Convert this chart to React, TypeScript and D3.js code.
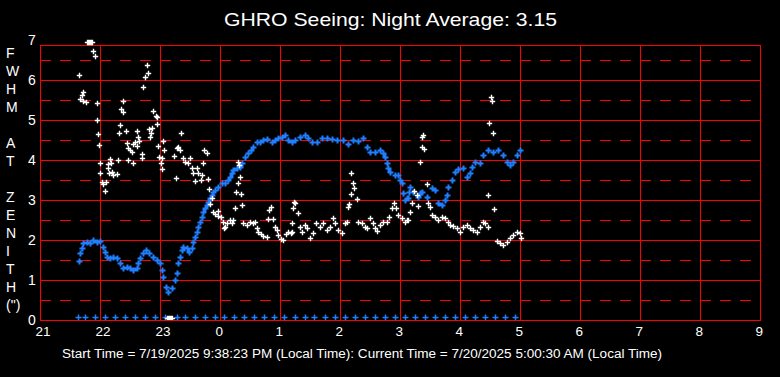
import React from "react";
import * as d3 from "d3";

const W = 780;
const H = 377;

const titleText = "GHRO Seeing: Night Average: 3.15";
const footerText =
  "Start Time = 7/19/2025 9:38:23 PM (Local Time): Current Time = 7/20/2025 5:00:30 AM (Local Time)";
const xTickLabels = ["21", "22", "23", "0", "1", "2", "3", "4", "5", "6", "7", "8", "9"];
const yTickLabels = ["0", "1", "2", "3", "4", "5", "6", "7"];
const yAxisLetters = ["F", "W", "H", "M", "", "A", "T", "", "Z", "E", "N", "I", "T", "H", "(\")"];

// minutes after 21:00
const blueMinutes = [
  39, 40, 41.7, 43.3, 46.7, 50, 53.3, 56.7, 60, 62.7, 65, 66.7, 70, 73.3, 76.7, 80, 83.3, 86.7, 90, 93.3,
  96.7, 98.3, 100, 102.7, 106, 109.3, 112.7, 116.7, 120, 121.7, 123.3, 126, 128.3, 131.7, 135, 136.7, 138.3,
  140, 141.7, 143.3, 146.7, 149.3, 151.7, 153.3, 155, 156.7, 158.3, 160, 161.7, 163.3, 165, 166.7, 168.3,
  170, 171.7, 173.3, 175, 178.3, 181.7, 185, 188.3, 190, 191.7, 193.3, 196.7, 200, 201.7, 205, 208.3, 211,
  213.3, 216.7, 220, 223.3, 226.7, 231.7, 235, 238.3, 241.7, 245, 248.3, 251.7, 255, 260, 265, 268.3, 271.7,
  276.7, 281.7, 286.7, 291.7, 296.7, 303.3, 308.3, 313.3, 318.3, 323.3, 326.7, 330, 335, 340, 343.3, 345,
  346.7, 348.3, 350, 355, 358.3, 360, 361.7, 363.3, 365, 366.7, 368.3, 369.3, 370, 373.3, 378.3, 380, 381.7,
  386.7, 391.7, 395, 398.3, 401.7, 405, 406.7, 408.3, 411.7, 415, 418.3, 423.3, 426.7, 430, 431.7, 435, 440,
  443.3, 448.3, 453.3, 458.3, 463.3, 466.7, 470, 473.3, 476.7, 480,
];
const blueValues = [
  1.48, 1.67, 1.79, 1.92, 1.96, 1.92, 2.0, 1.96, 1.98, 1.83, 1.71, 1.58, 1.54, 1.58, 1.54, 1.42, 1.31, 1.33,
  1.29, 1.25, 1.29, 1.42, 1.54, 1.68, 1.75, 1.67, 1.58, 1.5, 1.42, 1.25, 1.08, 0.83, 0.71, 0.79, 1.0, 1.17,
  1.42, 1.58, 1.75, 1.83, 1.79, 1.71, 1.79, 1.96, 2.08, 2.21, 2.33, 2.46, 2.58, 2.71, 2.79, 2.875, 2.96,
  3.04, 3.125, 3.21, 3.25, 3.33, 3.42, 3.43, 3.5, 3.58, 3.67, 3.75, 3.81, 3.83, 3.92, 4.08, 4.17, 4.25,
  4.33, 4.46, 4.46, 4.5, 4.52, 4.46, 4.5, 4.54, 4.58, 4.625, 4.5, 4.46, 4.5, 4.57, 4.625, 4.54, 4.46,
  4.46, 4.56, 4.54, 4.52, 4.5, 4.5, 4.4, 4.5, 4.48, 4.54, 4.33, 4.21, 4.21, 4.25, 4.17, 4.08,
  3.92, 3.79, 3.71, 3.625, 3.625, 3.5, 3.42, 3.17, 3.0, 3.04, 3.04, 3.21, 3.33, 3.21, 3.08, 3.17, 3.21,
  3.08, 3.29, 3.25, 2.92, 2.875, 3.0, 3.125, 3.33, 3.5, 3.71, 3.77, 3.79, 3.58, 3.67, 3.83, 3.96, 3.92,
  4.125, 4.25, 4.21, 4.25, 4.125, 3.96, 3.875, 3.96, 4.125, 4.25,
];

const whiteMinutes = [
  47, 48, 49, 50, 51, 52, 53.3, 55.3, 39.3, 107.3, 108.3, 105, 103.3, 43.3, 41.7, 40, 42.7, 45.7, 56.7, 82.7,
  81, 83.3, 113.3, 115.7, 117.3, 57.3, 80.3, 85.7, 79.3, 97.3, 109.3, 112.3, 117.3, 111, 110, 98.3, 99.3, 95,
  86.7, 88.3, 90, 91.7, 92.7, 96.7, 58.3, 59.3, 118.3, 123.3, 124.3, 119.3, 122, 120.7, 121.7, 134.3, 136,
  138.3, 101.7, 101.7, 93.3, 78.3, 87.7, 70, 70.7, 68.3, 60, 67.7, 69.3, 71.7, 73.3, 76.7, 60, 61.7, 63.3,
  66, 65.3,
  141, 140, 136.7, 143.3, 145, 148.3, 150, 164.3, 166.7, 163.3, 151.7, 156.7, 153.3, 158.3, 161.7, 155, 161,
  168.3, 169.3, 171.7, 170, 198.3, 199.3, 200, 197.7, 196, 201, 195, 202.3, 173.3, 175, 178.3, 177.7, 181,
  183.3, 185, 184.3, 186.7, 190, 191.7, 193.3, 203.3, 206.7, 210, 213.3, 215, 216.7, 218.3, 221, 223.3,
  226.7, 231, 229.3, 227.7, 232.7, 235, 236.7, 238.3, 241, 243.3, 246, 248.3, 251, 252.3, 253.3, 254.3,
  255, 258.3, 251.7, 260, 261.7, 265, 266.7, 270, 272.7, 276, 280, 283.3, 286.7, 290, 292.7, 295, 298.3,
  301.7, 305, 306.7, 308.3, 309.3, 311, 312.7, 314, 310.7, 316.7, 318.3, 321.7, 325, 327.3, 330, 332.7, 335,
  337.3, 340, 343.3, 346.7, 349.3, 351.7, 354, 356, 358.3, 361.7, 365, 368.3,
  366.7, 381.7, 383.3, 381.7, 384.3, 380, 386.7, 374.3, 376.7, 372.3, 370, 378.3, 388.3, 390, 391.7, 395,
  398.3, 401.7, 405, 407.7, 410, 413.3, 416.7, 420, 423.3, 426.7, 430, 433.3, 436.7, 440, 442.7, 445, 447.7,
  450.7, 452.3, 449.3, 453.3, 448.3, 454.3, 456.7, 460, 463.3, 466.7, 470, 473.3, 476.7, 480, 480.7,
  127, 128, 129, 130, 131, 132,
];
const whiteValues = [
  6.94, 6.94, 6.94, 6.94, 6.94, 6.94, 6.72, 6.6, 6.12, 6.37, 6.17, 6.08, 5.82, 5.69, 5.625, 5.52, 5.475, 5.44,
  5.42, 5.475, 5.27, 5.21, 5.225, 5.1, 5.08, 4.99, 4.87, 4.725, 4.67, 4.725, 4.77, 4.79, 4.89, 4.67, 4.57,
  4.57, 4.48, 4.46, 4.42, 4.29, 4.25, 4.19, 4.4, 4.35, 4.64, 4.37, 4.35, 4.475, 4.25, 4.07, 4.04, 3.92, 3.77,
  4.1, 3.54, 4.32, 4.15, 4.04, 3.92, 4.0, 3.99, 4.02, 3.92, 3.9, 3.92, 3.79, 3.68, 3.71, 3.625, 3.65, 3.67,
  3.46, 3.4, 3.44, 3.225,
  4.67, 4.25, 4.29, 4.04, 3.96, 3.92, 4.04, 4.25, 4.18, 3.93, 3.81, 3.81, 3.67, 3.68, 3.625, 3.475, 3.5,
  3.52, 3.275, 3.04, 2.89, 3.96, 3.875, 3.58, 3.42, 3.19, 3.14, 2.79, 2.875, 2.71, 2.65, 2.73, 2.6, 2.58,
  2.46, 2.33, 2.29, 2.42, 2.5, 2.43, 2.5, 2.42, 2.375, 2.46, 2.42, 2.46, 2.29, 2.21, 2.14, 2.1,
  2.08, 2.83, 2.75, 2.52, 2.52, 2.33, 2.25, 2.125, 2.025, 2.0, 2.14, 2.21, 2.18, 2.42, 2.79, 2.96,
  2.92, 2.67, 2.21, 2.33, 2.21, 2.375, 2.29, 2.04, 2.18, 2.42, 2.33, 2.42, 2.25, 2.33, 2.54, 2.42, 2.25,
  2.17, 2.42, 2.46, 2.83, 2.89, 3.67, 3.42, 3.29, 3.14, 3.02, 2.46, 2.42, 2.33, 2.31, 2.54, 2.43, 2.29,
  2.23, 2.375, 2.46, 2.46, 2.58, 2.79, 2.92, 2.79, 2.625, 2.54, 2.46, 2.5,
  2.5, 4.58, 4.625, 4.33, 4.27, 3.94, 3.39, 3.23, 3.125, 2.92, 2.71, 2.86, 2.92, 2.83, 2.625, 2.58,
  2.5, 2.58, 2.54, 2.46, 2.375, 2.35, 2.29, 2.21, 2.33, 2.375, 2.29, 2.25, 2.21, 2.33, 2.46, 2.42, 2.32,
  5.57, 5.475, 4.92, 4.67, 3.125, 2.77, 1.98, 1.93, 1.875, 1.96, 2.04, 2.125, 2.21, 2.18, 2.04,
  0.05, 0.05, 0.05, 0.05, 0.05, 0.05,
];

// markers drawn just above the zero line
const zeroMarkMinutes = [
  38, 45, 55, 65, 75, 85, 95, 105, 115, 125, 137, 145, 155, 165, 175, 184, 194, 204, 214, 224, 234, 244, 255,
  265, 274, 285, 295, 305, 315, 325, 335, 345, 355, 365, 375, 385, 395, 405, 415, 425, 435, 445, 455, 465, 475,
];
const zeroMarkValue = 0.075;

const FONT = "'Liberation Sans', Arial, sans-serif";
const RED = "#ff0000";
const BLUE = "#1f7fff";

const x = d3.scaleLinear().domain([0, 720]).range([40, 760]);
const y = d3.scaleLinear().domain([0, 7]).range([320, 40]);

function plusPath(ms: number[], vs: number[], arm: number) {
  let d = "";
  for (let i = 0; i < ms.length; i++) {
    const cx = Math.round(x(ms[i])) + 0.5;
    const cy = Math.round(y(vs[i])) + 0.5;
    d += `M${cx - arm},${cy}H${cx + arm}M${cx},${cy - arm}V${cy + arm}`;
  }
  return d;
}

export default function App() {
  const hourTicks = d3.range(0, 721, 60);
  const intTicks = d3.range(0, 7, 1);
  const halfTicks = d3.range(0.5, 7, 1);
  const top = 45;
  return (
    <svg
      width={W}
      height={H}
      style={{ position: "fixed", left: 0, top: 0, display: "block", background: "#000" }}
    >
      <rect x={0} y={0} width={W} height={H} fill="#000" />
      <defs>
        <clipPath id="plotclip">
          <rect x={36} y={30} width={728} height={290} />
        </clipPath>
      </defs>
      <text
        x={224}
        y={26}
        fill="#fff"
        fontFamily={FONT}
        fontSize={19}
        textLength={333}
        lengthAdjust="spacingAndGlyphs"
      >
        {titleText}
      </text>
      {/* grid */}
      <g shapeRendering="crispEdges">
        {halfTicks.map((v) => (
          <line
            key={"h" + v}
            x1={40}
            x2={760}
            y1={Math.round(y(v)) + 0.5}
            y2={Math.round(y(v)) + 0.5}
            stroke={RED}
            strokeWidth={1}
            strokeDasharray="11,9"
          />
        ))}
        {intTicks.map((v) => (
          <line
            key={"i" + v}
            x1={40}
            x2={761}
            y1={Math.round(y(v)) + 0.5}
            y2={Math.round(y(v)) + 0.5}
            stroke={RED}
            strokeWidth={1}
          />
        ))}
        <line x1={40} x2={761} y1={top + 0.5} y2={top + 0.5} stroke={RED} strokeWidth={1} />
        {hourTicks.map((m) => (
          <line
            key={"v" + m}
            x1={Math.round(x(m)) + 0.5}
            x2={Math.round(x(m)) + 0.5}
            y1={top}
            y2={321}
            stroke={RED}
            strokeWidth={1}
          />
        ))}
      </g>
      {/* data */}
      <g clipPath="url(#plotclip)">
        <path
          d={plusPath(zeroMarkMinutes, zeroMarkMinutes.map(() => zeroMarkValue), 3)}
          stroke={BLUE}
          strokeWidth={1.5}
          fill="none"
        />
        <path d={plusPath(blueMinutes, blueValues, 3)} stroke={BLUE} strokeWidth={2} fill="none" />
        <path d={plusPath(whiteMinutes, whiteValues, 2.7)} stroke="#fff" strokeWidth={1.4} fill="none" />
      </g>
      {/* y tick labels */}
      {yTickLabels.map((t, i) => (
        <text key={"yl" + t} x={28} y={y(i) + 5} fill="#fff" fontFamily={FONT} fontSize={14}>
          {t}
        </text>
      ))}
      {/* x tick labels */}
      {xTickLabels.map((t, i) => (
        <text key={"xl" + i} x={x(i * 60) - 4.5} y={335.5} fill="#fff" fontFamily={FONT} fontSize={13.5}>
          {t}
        </text>
      ))}
      {/* y axis title (stacked letters) */}
      {yAxisLetters.map((c, i) => (
        <text key={"ya" + i} x={6} y={58 + i * 18} fill="#fff" fontFamily={FONT} fontSize={14}>
          {c}
        </text>
      ))}
      <text
        x={62}
        y={358}
        fill="#fff"
        fontFamily={FONT}
        fontSize={12.5}
        textLength={600}
        lengthAdjust="spacingAndGlyphs"
      >
        {footerText}
      </text>
    </svg>
  );
}
